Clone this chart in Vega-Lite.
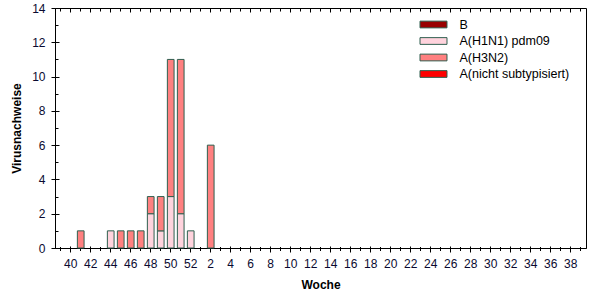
{
  "$schema": "https://vega.github.io/schema/vega-lite/v6.json",
  "width": 531,
  "height": 240,
  "autosize": {"type": "none"},
  "padding": {"left": 55, "top": 8, "right": 16, "bottom": 52},
  "background": "white",
  "config": {
    "font": "Liberation Sans",
    "view": {"stroke": "black", "strokeWidth": 1},
    "axis": {"grid": false, "domainColor": "black", "tickColor": "black", "labelColor": "#0a0a30", "labelFont": "Liberation Sans", "titleFont": "Liberation Sans", "labelFontSize": 12, "titleFontSize": 12, "titleFontWeight": "bold", "titleColor": "black"}
  },
  "data": {
    "values": [
      {"woche": "41", "typ": "A(H3N2)", "n": 1},
      {"woche": "44", "typ": "A(H1N1) pdm09", "n": 1},
      {"woche": "45", "typ": "A(H3N2)", "n": 1},
      {"woche": "46", "typ": "A(H3N2)", "n": 1},
      {"woche": "47", "typ": "A(H3N2)", "n": 1},
      {"woche": "48", "typ": "A(H1N1) pdm09", "n": 2},
      {"woche": "48", "typ": "A(H3N2)", "n": 1},
      {"woche": "49", "typ": "A(H1N1) pdm09", "n": 1},
      {"woche": "49", "typ": "A(H3N2)", "n": 2},
      {"woche": "50", "typ": "A(H1N1) pdm09", "n": 3},
      {"woche": "50", "typ": "A(H3N2)", "n": 8},
      {"woche": "51", "typ": "A(H1N1) pdm09", "n": 2},
      {"woche": "51", "typ": "A(H3N2)", "n": 9},
      {"woche": "52", "typ": "A(H1N1) pdm09", "n": 1},
      {"woche": "2", "typ": "A(H3N2)", "n": 6}
    ]
  },
  "encoding": {
    "x": {
      "field": "woche",
      "type": "nominal",
      "sort": null,
      "scale": {
        "type": "band",
        "domain": ["39v", "40", "41", "42", "43", "44", "45", "46", "47", "48", "49", "50", "51", "52", "1", "2", "3", "4", "5", "6", "7", "8", "9", "10", "11", "12", "13", "14", "15", "16", "17", "18", "19", "20", "21", "22", "23", "24", "25", "26", "27", "28", "29", "30", "31", "32", "33", "34", "35", "36", "37", "38", "39"],
        "paddingInner": 0.33,
        "paddingOuter": 0.215,
        "align": 0.55
      }
    },
    "y": {
      "field": "n",
      "type": "quantitative",
      "stack": "zero",
      "scale": {"domain": [0, 14], "nice": false, "zero": true}
    }
  },
  "layer": [
    {
      "mark": {"type": "bar", "stroke": "#2f5f4f", "strokeWidth": 1},
      "encoding": {
        "x": {
          "field": "woche",
          "type": "nominal",
          "sort": null,
          "axis": {
            "orient": "bottom",
            "title": "Woche",
            "labelAngle": 0,
            "labelOverlap": false,
            "labelFlush": false,
            "labelExpr": "toNumber(datum.value) % 2 == 0 ? datum.label : ''",
            "tickSize": {"condition": {"test": "toNumber(datum.value) % 2 == 0", "value": 4}, "value": 2.5},
            "labelPadding": 6,
            "titlePadding": 10
          }
        },
        "y": {
          "field": "n",
          "type": "quantitative",
          "stack": "zero",
          "axis": {
            "orient": "left",
            "title": "Virusnachweise",
            "values": [0, 1, 2, 3, 4, 5, 6, 7, 8, 9, 10, 11, 12, 13, 14],
            "labelExpr": "datum.value % 2 == 0 ? datum.label : ''",
            "tickSize": 4,
            "tickOpacity": {"condition": {"test": "datum.value % 2 == 0", "value": 1}, "value": 0},
            "labelPadding": 6,
            "titlePadding": 8
          }
        },
        "color": {
          "field": "typ",
          "type": "nominal",
          "scale": {
            "domain": ["B", "A(H1N1) pdm09", "A(H3N2)", "A(nicht subtypisiert)"],
            "range": ["#990000", "#ffd3dd", "#ff8080", "#ff0000"]
          },
          "legend": {
            "orient": "none",
            "legendX": 371,
            "legendY": 9,
            "title": null,
            "symbolType": "M-2,-0.5H2V0.5H-2Z",
            "symbolSize": 182,
            "symbolStrokeColor": "#2f5f4f",
            "symbolStrokeWidth": 1,
            "symbolOpacity": 1,
            "labelFont": "Liberation Sans",
            "labelFontSize": 12.5,
            "labelColor": "black",
            "labelOffset": 18.5,
            "rowPadding": 2.5
          }
        },
        "order": {"field": "typ", "sort": "ascending"}
      }
    },
    {
      "mark": {"type": "bar", "opacity": 0},
      "encoding": {
        "x": {
          "field": "woche",
          "type": "nominal",
          "sort": null,
          "axis": {
            "orient": "top",
            "title": null,
            "labels": false,
            "domain": false,
            "tickSize": {"condition": {"test": "toNumber(datum.value) % 2 == 0", "value": -4}, "value": -3}
          }
        },
        "y": {
          "field": "n",
          "type": "quantitative",
          "stack": "zero",
          "axis": {
            "orient": "left",
            "title": null,
            "labels": false,
            "domain": false,
            "values": [0, 1, 2, 3, 4, 5, 6, 7, 8, 9, 10, 11, 12, 13, 14],
            "tickSize": {"condition": {"test": "datum.value % 2 == 0", "value": -4}, "value": -3}
          }
        }
      }
    },
    {
      "mark": {"type": "bar", "opacity": 0},
      "encoding": {
        "x": {
          "field": "woche",
          "type": "nominal",
          "sort": null,
          "axis": {
            "orient": "bottom",
            "title": null,
            "labels": false,
            "domain": false,
            "tickSize": {"condition": {"test": "toNumber(datum.value) % 2 == 0", "value": -2}, "value": -1.5}
          }
        },
        "y": {
          "field": "n",
          "type": "quantitative",
          "stack": "zero",
          "axis": null
        }
      }
    }
  ],
  "resolve": {"axis": {"x": "independent", "y": "independent"}}
}
